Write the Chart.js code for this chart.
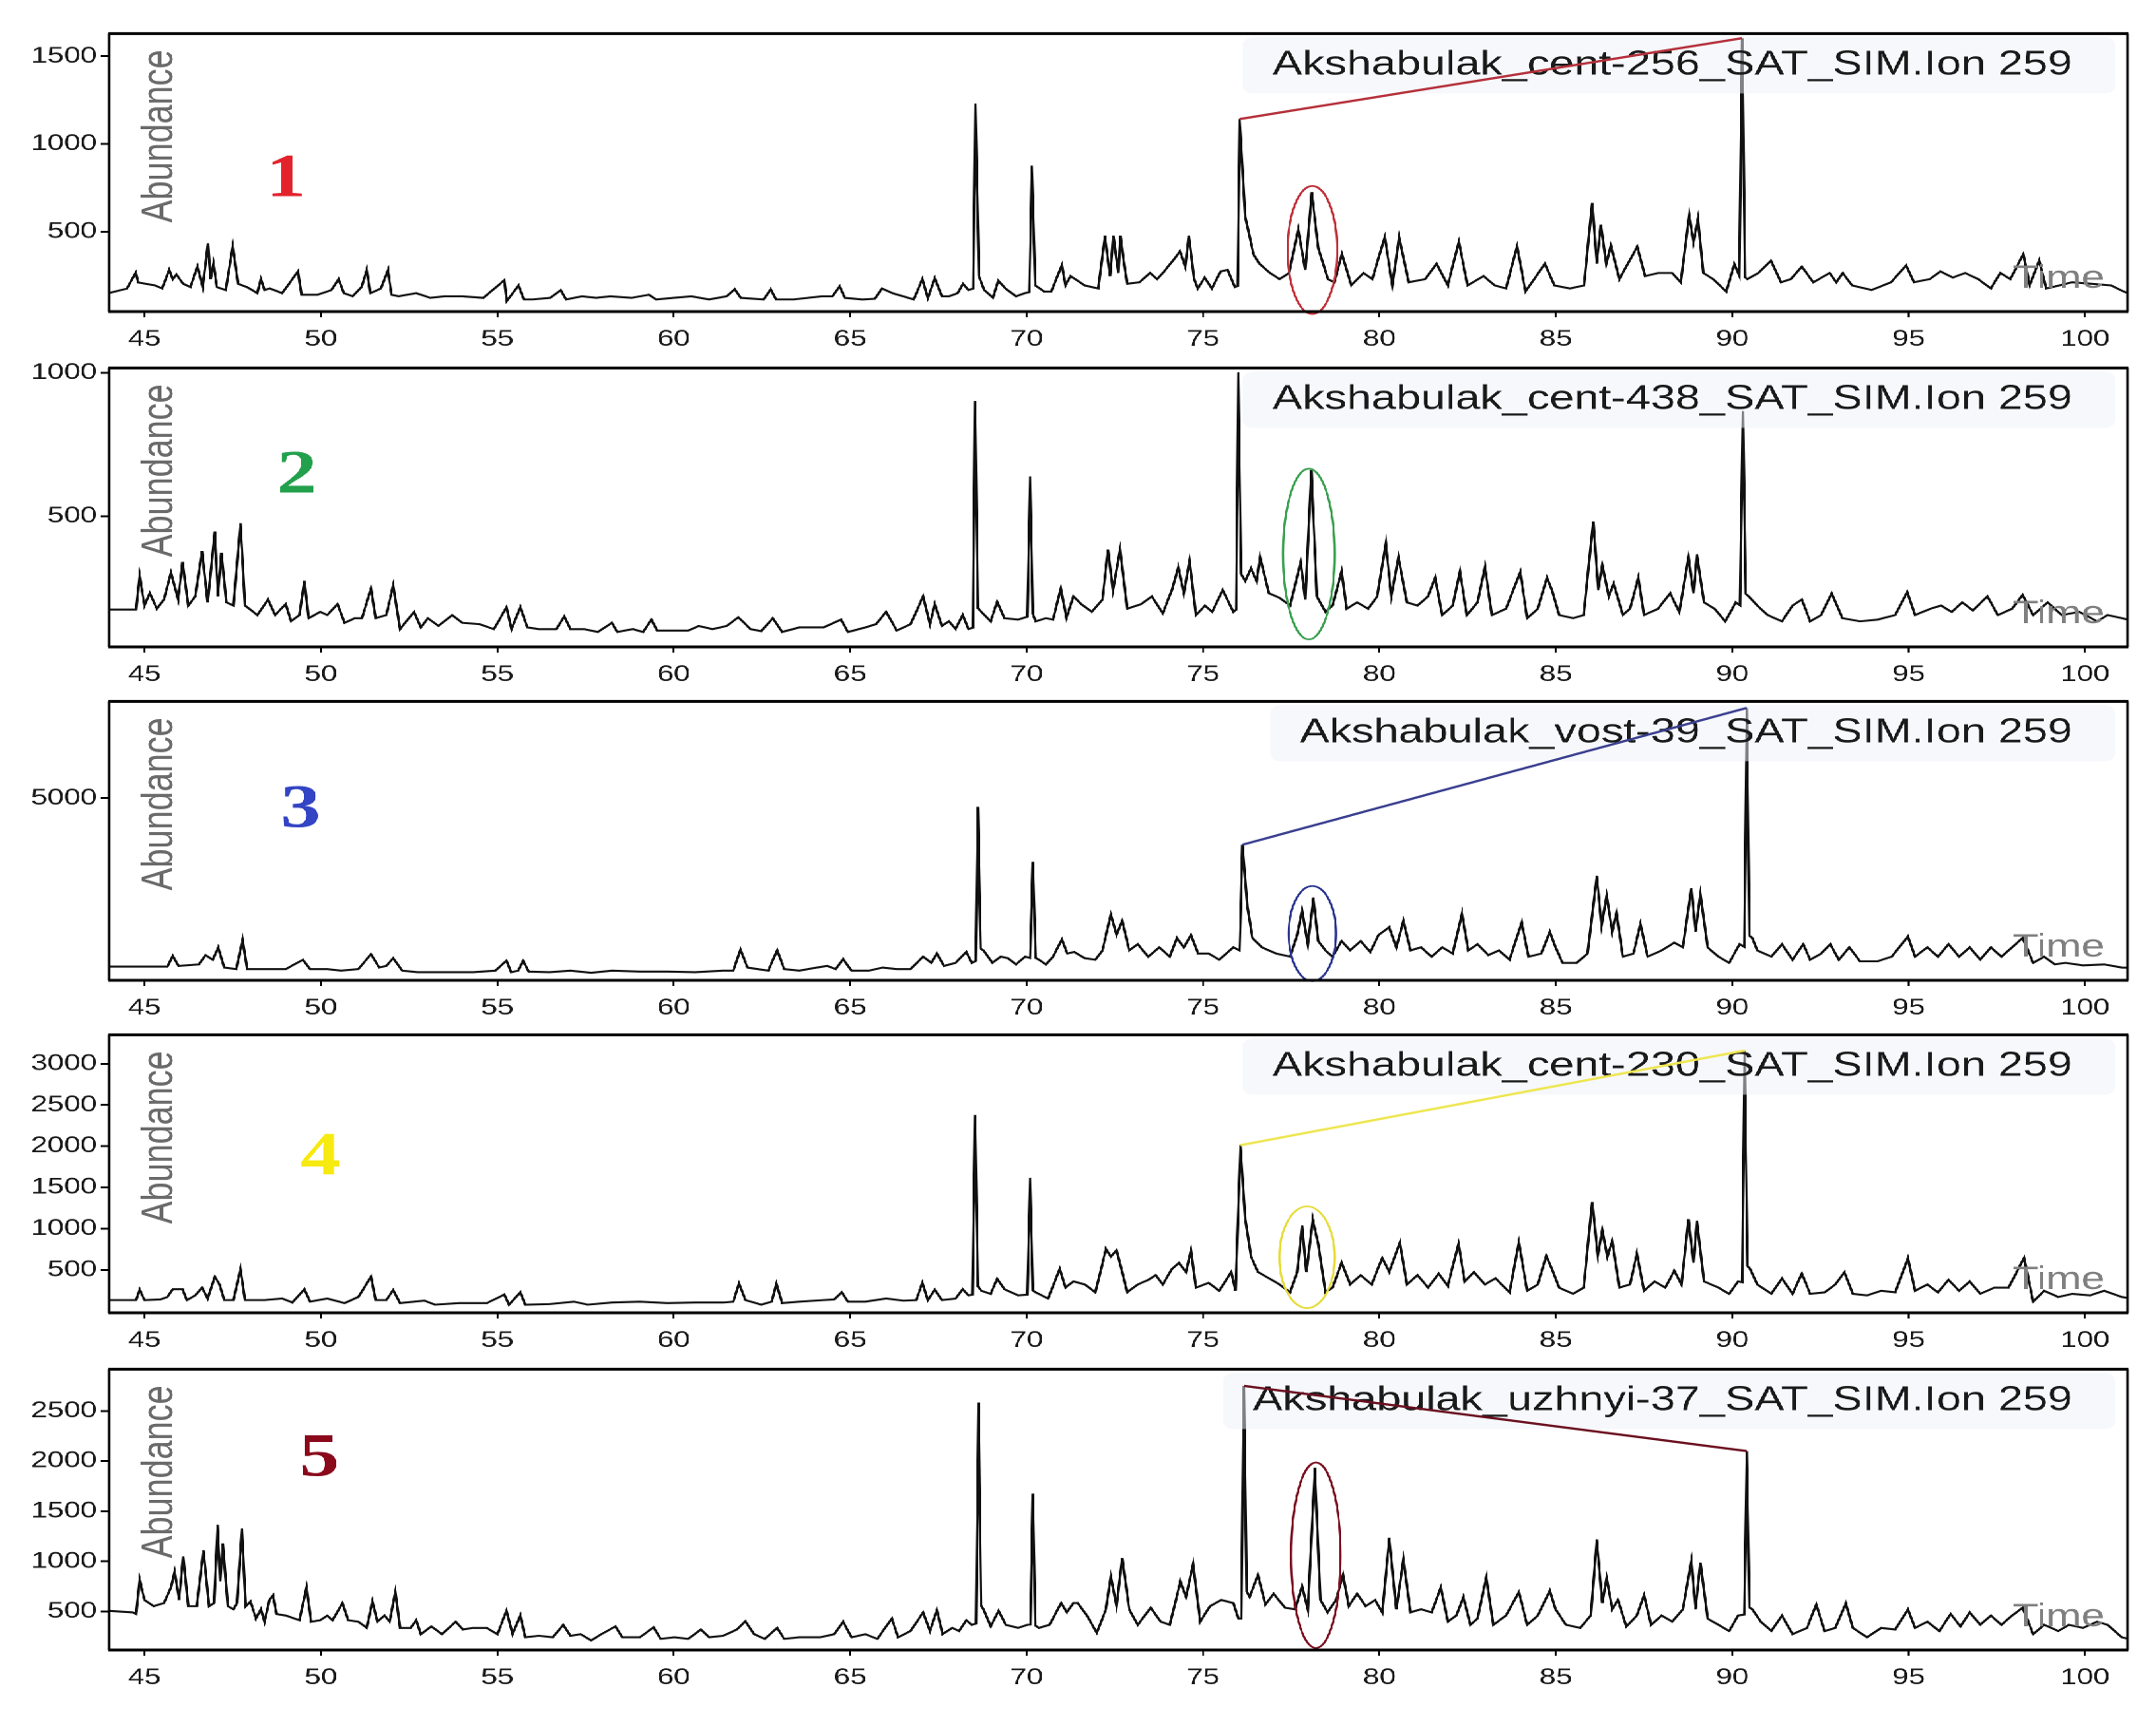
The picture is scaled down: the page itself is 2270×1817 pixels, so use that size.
<!DOCTYPE html>
<html><head><meta charset="utf-8">
<script src="https://cdn.jsdelivr.net/npm/chart.js@4.4.1/dist/chart.umd.min.js"></script>
<style>
html,body{margin:0;padding:0;background:#fff;width:2270px;height:1817px;overflow:hidden}
#stage{position:absolute;left:0;top:0;width:1746.15px;height:1817px;transform:scaleX(1.3);transform-origin:0 0}
.pane{position:absolute;left:0;width:1746.15px}
</style></head><body><div id="stage"></div>
<script>
// ---------------- DATA (retention time in min, abundance) ----------------
const xTickValues = [45,50,55,60,65,70,75,80,85,90,95,100];
const yTicks1 = [500,1000,1500];
const yTicks2 = [500,1000];
const yTicks3 = [5000];
const yTicks4 = [500,1000,1500,2000,2500,3000];
const yTicks5 = [500,1000,1500,2000,2500];
const sampleNames = [
  "Akshabulak_cent-256_SAT_SIM.Ion 259",
  "Akshabulak_cent-438_SAT_SIM.Ion 259",
  "Akshabulak_vost-39_SAT_SIM.Ion 259",
  "Akshabulak_cent-230_SAT_SIM.Ion 259",
  "Akshabulak_uzhnyi-37_SAT_SIM.Ion 259"
];
const sampleNumbers = ["1","2","3","4","5"];

const trace1 = [[44.0,150],[44.5,175],[44.75,265],[44.82,210],[45.3,193],[45.5,176],[45.7,282],[45.8,229],[45.9,255],[46.1,202],
[46.3,184],[46.5,300],[46.65,184],[46.8,433],[46.87,229],[46.95,317],[47.05,184],[47.3,167],[47.5,415],[47.65,202],
[47.9,184],[48.2,149],[48.3,229],[48.4,167],[48.55,176],[48.9,149],[49.35,273],[49.45,140],[49.9,140],[50.3,167],
[50.5,229],[50.65,149],[50.9,131],[51.15,184],[51.3,282],[51.4,149],[51.7,176],[51.9,282],[52.0,140],[52.2,131],
[52.7,149],[53.1,122],[53.5,131],[54.0,131],[54.6,122],[55.2,223],[55.27,105],[55.6,193],[55.75,113],[56.0,113],
[56.5,122],[56.8,167],[56.95,113],[57.4,131],[57.8,122],[58.2,131],[58.8,122],[59.3,140],[59.5,113],[60.0,122],
[60.5,131],[61.0,113],[61.5,131],[61.73,172],[61.9,122],[62.55,113],[62.75,172],[62.9,113],[63.4,113],[64.2,131],
[64.5,131],[64.7,188],[64.85,122],[65.35,113],[65.7,117],[65.9,176],[66.2,149],[66.8,113],[67.05,229],[67.2,122],
[67.4,234],[67.6,131],[67.8,131],[68.05,149],[68.2,202],[68.35,167],[68.49,175],[68.55,1230],[68.65,246],[68.8,167],[69.05,122],
[69.2,220],[69.4,176],[69.7,131],[69.95,149],[70.08,155],[70.15,876],[70.25,193],[70.5,158],[70.7,158],[71.0,308],[71.1,193],
[71.25,246],[71.65,193],[72.03,176],[72.22,477],[72.37,246],[72.46,477],[72.6,264],[72.66,477],[72.75,335],[72.85,202],
[73.2,211],[73.5,264],[73.7,229],[73.9,273],[74.15,335],[74.35,388],[74.5,300],[74.6,477],[74.75,229],[74.85,176],
[75.05,238],[75.25,176],[75.5,273],[75.7,282],[75.9,184],[75.98,190],[76.04,1142],[76.2,583],[76.43,371],[76.6,317],[76.9,264],
[77.17,229],[77.44,264],[77.7,512],[77.9,282],[78.08,725],[78.27,406],[78.54,229],[78.72,211],[78.94,371],[79.2,193],
[79.55,264],[79.8,229],[80.15,468],[80.37,193],[80.56,468],[80.83,211],[81.3,229],[81.62,317],[81.94,193],[82.25,441],
[82.5,193],[82.95,246],[83.27,193],[83.59,176],[83.9,415],[84.14,158],[84.69,317],[84.96,193],[85.4,176],[85.8,193],
[86.03,663],[86.16,317],[86.28,539],[86.43,317],[86.56,424],[86.8,229],[87.31,415],[87.53,246],[87.9,264],[88.3,264],
[88.54,211],[88.78,592],[88.9,441],[89.03,575],[89.18,264],[89.46,229],[89.83,158],[90.06,317],[90.2,250],[90.28,1603],[90.36,240],[90.43,229],
[90.74,264],[91.1,335],[91.38,211],[91.66,229],[91.97,300],[92.3,211],[92.76,264],[92.95,211],[93.13,264],[93.4,193],
[93.95,167],[94.5,211],[94.93,308],[95.15,211],[95.6,229],[95.9,273],[96.25,238],[96.6,264],[96.97,229],[97.33,176],
[97.6,264],[97.88,229],[98.25,371],[98.43,193],[98.7,335],[98.9,176],[99.27,193],[99.63,211],[100.2,202],[100.74,193],
[101.1,158],[101.2,150]];

const trace2 = [[44.0,175],[44.76,175],[44.86,292],[45.0,189],[45.15,232],[45.35,178],[45.55,210],[45.75,303],[45.95,210],[46.08,341],
[46.24,189],[46.44,221],[46.63,379],[46.79,200],[46.99,447],[47.08,221],[47.18,373],[47.32,200],[47.52,189],[47.72,476],
[47.85,189],[48.2,156],[48.5,210],[48.7,156],[49.0,194],[49.15,134],[49.39,156],[49.53,275],[49.65,145],[49.98,167],
[50.18,156],[50.47,194],[50.67,129],[50.96,145],[51.16,145],[51.42,248],[51.55,145],[51.85,156],[52.05,259],[52.24,107],
[52.64,167],[52.83,113],[53.03,145],[53.33,118],[53.72,156],[54.0,129],[54.5,124],[54.9,107],[55.26,183],[55.4,107],
[55.65,183],[55.85,113],[56.18,107],[56.67,107],[56.9,151],[57.07,107],[57.46,107],[57.85,97],[58.25,129],[58.4,97],
[58.84,107],[59.13,97],[59.37,140],[59.53,102],[59.82,102],[60.41,102],[60.71,118],[61.1,107],[61.5,118],[61.83,148],
[62.18,107],[62.48,100],[62.81,145],[63.07,97],[63.56,113],[64.25,113],[64.74,140],[64.94,97],[65.43,113],[65.73,124],
[66.02,167],[66.32,102],[66.71,124],[67.07,221],[67.26,124],[67.4,194],[67.6,118],[67.8,134],[67.99,107],[68.19,156],
[68.35,107],[68.48,112],[68.54,902],[68.62,180],[68.72,167],[68.98,134],[69.17,202],[69.37,145],[69.76,140],[70.02,150],[70.1,639],[70.18,160],[70.26,134],[70.55,145],
[70.75,140],[70.97,248],[71.13,145],[71.33,221],[71.55,194],[71.85,167],[72.15,210],[72.31,384],[72.45,243],[72.65,384],
[72.85,178],[73.25,194],[73.55,221],[73.86,162],[74.12,243],[74.3,324],[74.46,232],[74.62,346],[74.8,156],[75.06,189],
[75.26,167],[75.56,243],[75.86,167],[75.94,175],[76.0,1002],[76.08,300],[76.2,275],[76.36,319],[76.52,275],[76.62,357],[76.87,232],[77.17,216],
[77.47,189],[77.77,341],[77.9,210],[78.07,661],[78.23,221],[78.47,167],[78.67,189],[78.93,308],[79.07,178],[79.37,200],
[79.68,178],[79.94,221],[80.18,406],[80.34,221],[80.54,357],[80.78,200],[81.08,189],[81.38,221],[81.58,286],[81.78,156],
[82.08,189],[82.28,308],[82.48,156],[82.78,200],[82.99,324],[83.19,156],[83.59,178],[83.99,306],[84.19,145],[84.49,178],
[84.75,286],[84.89,243],[85.09,156],[85.49,145],[85.79,156],[86.06,482],[86.2,243],[86.32,330],[86.5,221],[86.64,265],
[86.9,156],[87.1,178],[87.34,286],[87.5,156],[87.9,178],[88.24,232],[88.5,167],[88.76,357],[88.9,232],[89.0,368],
[89.2,200],[89.5,178],[89.8,134],[90.1,200],[90.22,190],[90.3,867],[90.38,230],[90.47,221],[90.71,189],[91.0,156],[91.41,134],[91.71,189],
[91.97,210],[92.21,134],[92.52,156],[92.82,232],[93.12,145],[93.62,134],[94.12,140],[94.62,156],[94.96,237],[95.18,156],
[95.62,178],[95.92,189],[96.22,167],[96.52,200],[96.82,172],[97.23,221],[97.53,156],[97.93,178],[98.23,226],[98.53,156],
[98.94,200],[99.34,156],[99.84,167],[100.34,134],[100.64,156],[101.04,145],[101.2,140]];

const trace3 = [[44.0,469],[45.65,469],[45.8,753],[45.96,486],[46.54,527],[46.73,778],[46.93,653],[47.09,987],[47.26,444],[47.6,402],
[47.78,1196],[47.91,402],[48.4,402],[49.0,402],[49.49,653],[49.69,402],[50.18,402],[50.57,360],[51.06,402],[51.42,803],
[51.65,444],[51.85,486],[52.05,695],[52.3,360],[52.74,318],[53.52,318],[54.31,318],[54.94,360],[55.26,628],[55.39,318],
[55.59,360],[55.73,628],[55.89,335],[56.48,318],[57.07,360],[57.66,302],[58.25,360],[59.04,335],[59.82,335],[60.61,318],
[61.4,360],[61.69,360],[61.89,920],[62.09,444],[62.38,402],[62.68,360],[62.93,904],[63.13,402],[63.56,360],[64.06,444],
[64.35,486],[64.59,402],[64.8,670],[65.04,360],[65.53,360],[65.92,444],[66.32,402],[66.71,402],[67.07,736],[67.3,569],
[67.46,820],[67.66,486],[67.99,569],[68.29,862],[68.45,569],[68.56,620],[68.62,4766],[68.7,950],[68.78,904],[69.03,569],[69.27,736],[69.47,695],
[69.7,527],[69.96,736],[70.1,700],[70.18,3286],[70.26,700],[70.35,653],[70.55,527],[70.75,736],[71.0,1196],[71.15,820],[71.35,862],[71.65,695],
[71.95,653],[72.15,904],[72.39,1865],[72.55,1322],[72.71,1698],[72.91,904],[73.15,1071],[73.45,736],[73.76,987],[74.06,736],
[74.26,1238],[74.46,987],[74.66,1322],[74.86,820],[75.16,820],[75.46,653],[75.86,987],[76.04,900],[76.12,3746],[76.26,2074],[76.4,1238],
[76.67,987],[77.07,820],[77.47,736],[77.67,1322],[77.81,1990],[77.97,1071],[78.13,2325],[78.27,1154],[78.47,904],[78.67,736],
[78.93,1154],[79.17,904],[79.47,1154],[79.74,862],[79.98,1322],[80.28,1531],[80.48,987],[80.68,1698],[80.88,904],[81.18,987],
[81.48,736],[81.78,987],[82.08,820],[82.34,1907],[82.52,904],[82.78,1071],[83.09,778],[83.39,904],[83.69,653],[84.03,1656],
[84.23,736],[84.59,820],[84.83,1405],[84.99,987],[85.19,569],[85.59,569],[85.9,820],[86.16,2910],[86.3,1573],[86.44,2367],
[86.6,1405],[86.72,1907],[86.9,736],[87.2,820],[87.4,1614],[87.6,736],[88.0,904],[88.36,1113],[88.6,987],[88.84,2576],
[88.96,1405],[89.1,2408],[89.3,987],[89.61,736],[89.91,569],[90.21,1071],[90.34,1000],[90.41,7424],[90.49,1300],[90.57,1238],[90.71,904],[91.11,736],
[91.41,1071],[91.71,653],[92.01,1071],[92.21,653],[92.52,820],[92.78,1071],[93.02,653],[93.32,987],[93.62,611],[94.12,611],
[94.52,736],[94.98,1280],[95.18,736],[95.53,987],[95.83,736],[96.13,1071],[96.43,736],[96.73,987],[97.03,653],[97.33,987],
[97.63,736],[97.93,987],[98.23,1238],[98.53,569],[98.84,736],[99.14,527],[99.44,569],[99.94,502],[100.54,527],[101.04,444],
[101.2,440]];

const trace4 = [[44.0,134],[44.76,134],[44.86,259],[45.0,134],[45.45,142],[45.65,172],[45.8,266],[46.08,266],[46.2,134],[46.44,191],
[46.63,285],[46.79,153],[46.99,417],[47.13,323],[47.26,134],[47.52,134],[47.72,511],[47.85,134],[48.4,134],[48.9,153],
[49.19,104],[49.53,266],[49.69,115],[50.18,153],[50.67,97],[51.06,172],[51.42,417],[51.55,134],[51.85,134],[52.05,255],
[52.24,97],[52.93,127],[53.23,78],[53.92,97],[54.7,97],[55.2,202],[55.33,78],[55.65,228],[55.79,78],[56.48,85],
[57.17,115],[57.56,78],[58.25,104],[59.04,115],[59.82,97],[60.61,104],[61.4,104],[61.69,115],[61.85,334],[62.03,134],
[62.48,78],[62.78,115],[62.91,330],[63.07,97],[63.56,115],[64.25,134],[64.55,142],[64.76,228],[64.94,115],[65.43,115],
[66.02,153],[66.51,127],[66.87,134],[67.05,342],[67.2,134],[67.4,259],[67.6,134],[67.99,153],[68.19,266],[68.35,191],
[68.47,200],[68.54,2378],[68.62,300],[68.72,247],[68.98,210],[69.17,391],[69.37,266],[69.76,191],[70.02,200],[70.1,1616],[70.18,250],[70.26,228],[70.61,153],[70.94,511],
[71.1,285],[71.33,360],[71.65,323],[71.95,228],[72.25,756],[72.39,662],[72.55,738],[72.71,474],[72.85,228],[73.15,323],
[73.45,379],[73.66,436],[73.86,323],[74.12,511],[74.32,587],[74.52,474],[74.66,738],[74.8,285],[75.16,342],[75.46,247],
[75.8,474],[75.92,247],[76.06,2012],[76.2,1115],[76.36,662],[76.56,474],[76.87,398],[77.17,323],[77.47,228],[77.67,474],
[77.81,1039],[77.93,474],[78.11,1115],[78.27,813],[78.47,228],[78.67,285],[78.93,587],[79.17,323],[79.47,436],[79.78,323],
[80.08,643],[80.28,474],[80.58,832],[80.78,323],[81.08,436],[81.38,285],[81.68,455],[81.94,304],[82.24,813],[82.42,360],
[82.68,474],[82.99,323],[83.29,398],[83.69,228],[83.95,832],[84.19,247],[84.49,323],[84.73,670],[84.89,511],[85.09,285],
[85.49,210],[85.79,285],[86.03,1322],[86.19,662],[86.32,983],[86.46,662],[86.6,851],[86.8,285],[87.1,323],[87.3,700],
[87.5,247],[87.8,360],[88.1,285],[88.36,492],[88.56,323],[88.76,1115],[88.9,587],[89.0,1096],[89.2,360],[89.61,285],
[89.91,210],[90.17,360],[90.28,350],[90.35,3160],[90.43,550],[90.51,511],[90.71,323],[91.11,210],[91.41,398],[91.71,210],[91.97,455],[92.21,210],
[92.62,228],[92.92,323],[93.18,474],[93.42,210],[93.82,191],[94.22,247],[94.62,228],[94.98,643],[95.18,247],[95.53,323],
[95.83,228],[96.13,379],[96.43,247],[96.73,360],[97.03,210],[97.43,285],[97.83,285],[98.27,643],[98.53,115],[98.84,247],
[99.24,172],[99.64,210],[100.14,191],[100.54,247],[101.04,172],[101.2,160]];

const trace5 = [[44.0,506],[44.67,491],[44.76,475],[44.86,816],[45.0,615],[45.26,553],[45.55,584],[45.75,739],[45.85,894],[45.98,615],
[46.1,1049],[46.24,553],[46.48,553],[46.67,1111],[46.83,553],[46.97,584],[47.07,1365],[47.15,801],[47.22,1179],[47.36,553],
[47.52,522],[47.62,584],[47.76,1328],[47.87,553],[48.0,599],[48.16,429],[48.3,522],[48.4,398],[48.54,615],[48.64,661],
[48.74,475],[49.0,460],[49.39,413],[49.59,739],[49.72,398],[49.98,413],[50.18,460],[50.33,413],[50.61,584],[50.77,413],
[51.06,398],[51.3,336],[51.46,599],[51.6,398],[51.8,460],[51.95,398],[52.11,692],[52.24,336],[52.54,336],[52.7,413],
[52.83,274],[53.13,351],[53.43,274],[53.82,398],[54.02,320],[54.31,336],[54.7,336],[55.0,274],[55.26,506],[55.43,274],
[55.65,460],[55.79,243],[56.18,258],[56.57,243],[56.87,367],[57.07,258],[57.36,274],[57.66,212],[57.95,274],[58.35,351],
[58.54,243],[59.04,243],[59.43,342],[59.63,227],[60.02,243],[60.41,227],[60.77,320],[61.0,243],[61.4,258],[61.79,320],
[62.03,404],[62.28,274],[62.58,227],[62.93,336],[63.13,227],[63.56,243],[64.15,243],[64.55,274],[64.8,398],[65.04,243],
[65.43,274],[65.77,227],[66.02,351],[66.18,429],[66.36,243],[66.71,305],[67.07,491],[67.26,305],[67.46,512],[67.62,274],
[67.89,336],[68.09,305],[68.29,413],[68.45,367],[68.57,380],[68.64,2584],[68.71,560],[68.78,522],[68.98,351],[69.21,506],[69.41,367],[69.76,336],
[70.02,367],[70.11,370],[70.18,1675],[70.25,360],[70.35,336],[70.65,367],[70.98,584],[71.14,491],[71.33,584],[71.45,584],[71.71,460],[71.99,289],
[72.25,522],[72.39,847],[72.55,553],[72.71,1033],[72.91,522],[73.15,367],[73.52,537],[73.8,398],[74.06,367],[74.36,801],
[74.52,646],[74.72,971],[74.92,398],[75.2,553],[75.52,615],[75.86,584],[76.0,429],[76.09,430],[76.16,2750],[76.24,700],[76.32,646],[76.56,863],
[76.77,568],[77.0,677],[77.33,537],[77.61,522],[77.81,754],[77.97,522],[78.17,1933],[78.33,615],[78.53,491],[78.77,615],
[78.97,863],[79.13,553],[79.37,677],[79.61,553],[79.88,615],[80.08,491],[80.28,1235],[80.48,522],[80.68,1018],[80.88,491],
[81.18,522],[81.48,491],[81.74,739],[81.94,398],[82.18,460],[82.38,646],[82.58,367],[82.78,429],[83.03,847],[83.23,367],
[83.59,460],[83.95,692],[84.19,367],[84.49,460],[84.83,708],[84.99,522],[85.29,367],[85.69,336],[85.99,460],[86.16,1219],
[86.32,584],[86.44,832],[86.6,522],[86.76,615],[87.0,351],[87.3,460],[87.5,661],[87.7,367],[88.0,460],[88.3,398],
[88.6,522],[88.84,1002],[88.96,522],[89.1,987],[89.3,429],[89.61,367],[89.91,305],[90.17,460],[90.34,470],[90.41,2100],[90.49,540],[90.57,522],
[90.81,398],[91.11,305],[91.41,460],[91.71,274],[92.12,336],[92.38,568],[92.62,305],[92.92,336],[93.22,584],[93.42,336],
[93.82,243],[94.22,336],[94.62,320],[94.98,522],[95.18,336],[95.53,398],[95.87,305],[96.19,475],[96.47,351],[96.73,491],
[97.03,367],[97.33,460],[97.63,367],[97.93,460],[98.23,537],[98.53,274],[98.84,367],[99.24,305],[99.54,367],[99.94,336],
[100.34,398],[100.64,367],[101.04,243],[101.2,230]];

// peaks joined by a line (retention times), and circled peak window [time, low, high]
const linkedPeaks = [[76.04,90.28], null, [76.12,90.41], [76.06,90.35], [76.16,90.41]];
const circledPeak = [[78.1,30,760],[78.0,71,666],[78.1,77,2635],[77.95,37,1270],[78.2,135,1986]];

// ---------------- LAYOUT / STYLE ----------------
const S = 1.3;
const FONT = '"Liberation Sans", Arial, Helvetica, sans-serif';
const panels = [
  {trace:trace1, yMin:44,  yMax:1629, yTicks:yTicks1, top:30,   bottom:328,  numColor:'#e3232c', numPos:[143,155], lineColor:'#b5303a', ellColor:'#c0303a', ellHW:0.70},
  {trace:trace2, yMin:45,  yMax:1017, yTicks:yTicks2, top:382,  bottom:681,  numColor:'#22a04c', numPos:[152,115], lineColor:null,      ellColor:'#3aa050', ellHW:0.73},
  {trace:trace3, yMin:100, yMax:7600, yTicks:yTicks3, top:733,  bottom:1032, numColor:'#3344c4', numPos:[155,116], lineColor:'#3a3f8f', ellColor:'#2a3590', ellHW:0.67},
  {trace:trace4, yMin:-20, yMax:3350, yTicks:yTicks4, top:1084, bottom:1382, numColor:'#f6ea10', numPos:[171,131], lineColor:'#eee650', ellColor:'#e6dc3a', ellHW:0.78},
  {trace:trace5, yMin:116, yMax:2916, yTicks:yTicks5, top:1436, bottom:1737, numColor:'#8a0a1c', numPos:[170,96],  lineColor:'#6b1020', ellColor:'#7a1020', ellHW:0.70}
];

function peakNear(trace, t){
  let best = null;
  for (const [x,y] of trace){ if (Math.abs(x-t) <= 0.2 && (!best || y > best[1])) best = [x,y]; }
  return best;
}

const decor = {
  id:'decor',
  afterDatasetsDraw(chart){
    const o = chart.options.plugins.decor;
    const p = panels[o.i];
    const {ctx, chartArea:a, scales:{x, y}} = chart;
    ctx.save();
    // Abundance label
    ctx.save();
    ctx.fillStyle = '#6a6a6a';
    ctx.font = '36px ' + FONT;
    ctx.translate(a.left + 41, a.top + 108);
    ctx.rotate(-Math.PI/2);
    ctx.textAlign = 'center'; ctx.textBaseline = 'middle';
    ctx.fillText('Abundance', 0, 0);
    ctx.restore();
    // big sample number
    ctx.font = 'bold 65px "Liberation Serif", "Times New Roman", serif';
    ctx.fillStyle = p.numColor;
    ctx.textAlign = 'center'; ctx.textBaseline = 'alphabetic';
    ctx.fillText(sampleNumbers[o.i], a.left + p.numPos[0], a.top + p.numPos[1] + 16);
    // "Time"
    ctx.font = '34px ' + FONT;
    ctx.fillStyle = '#808080';
    ctx.textAlign = 'right';
    ctx.fillText('Time', a.right - 18.5, a.bottom - 25);
    // title box + text
    ctx.font = '36px ' + FONT;
    const txt = sampleNames[o.i];
    const w = ctx.measureText(txt).width;
    const tr = a.right - 44.6;
    const bl = tr - w - 24, br = a.right - 10, bt = a.top + 4, bb = a.top + 63;
    ctx.fillStyle = 'rgba(238,242,250,0.5)';
    ctx.beginPath();
    if (ctx.roundRect) ctx.roundRect(bl, bt, br - bl, bb - bt, 8); else ctx.rect(bl, bt, br - bl, bb - bt);
    ctx.fill();
    ctx.fillStyle = '#1a1a1a';
    ctx.textAlign = 'right'; ctx.textBaseline = 'alphabetic';
    ctx.fillText(txt, tr, a.top + 43);
    // link line between peaks
    const lk = linkedPeaks[o.i];
    if (lk && p.lineColor){
      const p1 = peakNear(p.trace, lk[0]), p2 = peakNear(p.trace, lk[1]);
      ctx.strokeStyle = p.lineColor; ctx.lineWidth = 2.4;
      ctx.beginPath();
      ctx.moveTo(x.getPixelForValue(p1[0]), y.getPixelForValue(p1[1]));
      ctx.lineTo(x.getPixelForValue(p2[0]), y.getPixelForValue(p2[1]));
      ctx.stroke();
    }
    // ellipse around the circled peaks
    const c = circledPeak[o.i];
    const cx = x.getPixelForValue(c[0]);
    const rx = x.getPixelForValue(c[0] + p.ellHW) - cx;
    const y1 = y.getPixelForValue(c[1]), y2 = y.getPixelForValue(c[2]);
    ctx.strokeStyle = p.ellColor; ctx.lineWidth = 1.8;
    ctx.beginPath();
    ctx.ellipse(cx, (y1 + y2)/2, rx, Math.abs(y1 - y2)/2, 0, 0, Math.PI*2);
    ctx.stroke();
    ctx.restore();
  },
  afterDraw(chart){
    const {ctx, chartArea:a} = chart;
    ctx.save();
    ctx.strokeStyle = '#000';
    ctx.lineWidth = 3;
    ctx.beginPath();
    ctx.moveTo(a.left - 1, a.top); ctx.lineTo(a.right + 1, a.top);
    ctx.moveTo(a.left - 1, a.bottom); ctx.lineTo(a.right + 1, a.bottom);
    ctx.stroke();
    ctx.lineWidth = 2.3;
    ctx.beginPath();
    ctx.moveTo(a.left, a.top); ctx.lineTo(a.left, a.bottom);
    ctx.moveTo(a.right, a.top); ctx.lineTo(a.right, a.bottom);
    ctx.stroke();
    ctx.restore();
  }
};

const stage = document.getElementById('stage');
const PAD_TOP = 12, XAXIS_H = 60;
panels.forEach((p, i) => {
  const div = document.createElement('div');
  div.className = 'pane';
  div.style.top = (p.top - PAD_TOP) + 'px';
  div.style.height = (p.bottom - p.top + PAD_TOP + XAXIS_H) + 'px';
  const cv = document.createElement('canvas');
  div.appendChild(cv);
  stage.appendChild(div);
  new Chart(cv, {
    type: 'line',
    data: { datasets: [{
      data: p.trace.map(([t, v]) => ({x: t, y: v})),
      borderColor: '#111', borderWidth: 2.1, pointRadius: 0, tension: 0, fill: false
    }]},
    options: {
      responsive: true, maintainAspectRatio: false, animation: false,
      devicePixelRatio: 2,
      layout: { padding: { top: PAD_TOP, right: (2270 - 2240) / S, left: 0, bottom: 0 } },
      plugins: { legend: {display: false}, tooltip: {enabled: false}, decor: {i} },
      scales: {
        x: {
          type: 'linear', min: 44.0, max: 101.2,
          afterBuildTicks: s => { s.ticks = xTickValues.map(v => ({value: v})); },
          afterFit: s => { s.height = XAXIS_H; },
          border: {display: false},
          grid: {display: true, drawOnChartArea: false, drawTicks: true, tickLength: 6, tickWidth: 1.6, tickColor: '#000'},
          ticks: {callback: v => String(v), font: {family: FONT, size: 24}, color: '#1a1a1a', padding: 9, maxRotation: 0, autoSkip: false}
        },
        y: {
          type: 'linear', min: p.yMin, max: p.yMax,
          afterBuildTicks: s => { s.ticks = p.yTicks.map(v => ({value: v})); },
          afterFit: s => { s.width = 115 / S; },
          border: {display: false},
          grid: {display: true, drawOnChartArea: false, drawTicks: true, tickLength: 7, tickWidth: 2, tickColor: '#000'},
          ticks: {callback: v => String(v), font: {family: FONT, size: 24}, color: '#1a1a1a', padding: 3, autoSkip: false}
        }
      }
    },
    plugins: [decor]
  });
});
</script></body></html>
